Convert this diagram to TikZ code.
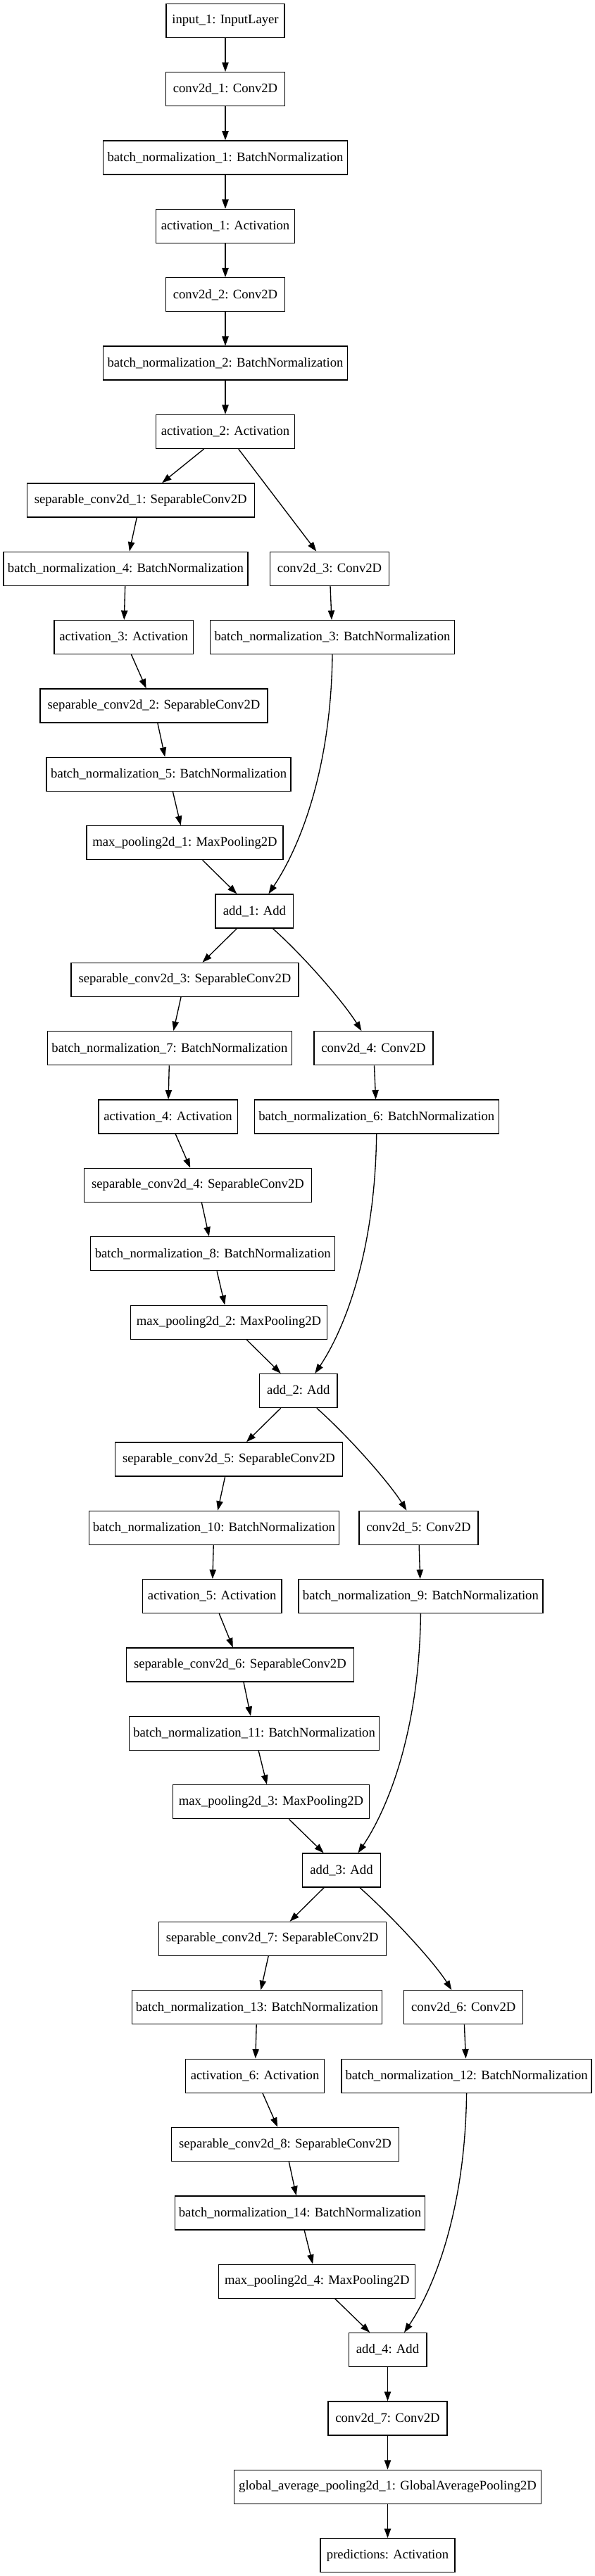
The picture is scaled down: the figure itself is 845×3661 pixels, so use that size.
\documentclass[tikz,border=0pt]{standalone}
\usepackage{fontspec}
\setmainfont{Liberation Serif}
\usetikzlibrary{arrows.meta,calc}
\begin{document}
\begin{tikzpicture}[x=0.75pt,y=-0.75pt,
  layer/.style={draw=black, line width=1pt, rectangle, minimum height=36pt,
    inner xsep=0pt, inner ysep=0pt, text=black, font=\fontsize{14pt}{16pt}\selectfont},
  lyInput/.style={layer, minimum width=126pt},
  lyConv/.style={layer, minimum width=126.75pt},
  lyBN/.style={layer, minimum width=260.25pt},
  lyBNW/.style={layer, minimum width=266.25pt},
  lyAct/.style={layer, minimum width=148pt},
  lySep/.style={layer, minimum width=242.25pt},
  lyPool/.style={layer, minimum width=209.25pt},
  lyAdd/.style={layer, minimum width=83pt},
  lyGap/.style={layer, minimum width=327pt},
  lyPred/.style={layer, minimum width=143.25pt},
  edge/.style={-{Triangle[length=10pt,width=7pt]}, line width=1pt, draw=black}]

\fill[white] (0,0) rectangle (845,3661);
\useasboundingbox (0,0) rectangle (845,3661);

% trunk
\node[lyInput] (in1) at (320,{29.33+0*97.36}) {input\_1: InputLayer};
\node[lyConv]  (c1)  at (320,{29.33+1*97.36}) {conv2d\_1: Conv2D};
\node[lyBN]    (bn1) at (320,{29.33+2*97.36}) {batch\_normalization\_1: BatchNormalization};
\node[lyAct]   (a1)  at (320,{29.33+3*97.36}) {activation\_1: Activation};
\node[lyConv]  (c2)  at (320,{29.33+4*97.36}) {conv2d\_2: Conv2D};
\node[lyBN]    (bn2) at (320,{29.33+5*97.36}) {batch\_normalization\_2: BatchNormalization};
\node[lyAct]   (a2)  at (320,{29.33+6*97.36}) {activation\_2: Activation};

% block 1
\node[lySep]  (s1)   at (199.7,{29.33+7*97.36})  {separable\_conv2d\_1: SeparableConv2D};
\node[lyBN]   (bn4)  at (178.4,{29.33+8*97.36})  {batch\_normalization\_4: BatchNormalization};
\node[lyConv] (c3)   at (468.0,{29.33+8*97.36})  {conv2d\_3: Conv2D};
\node[lyAct]  (a3)   at (175.6,{29.33+9*97.36})  {activation\_3: Activation};
\node[lyBN]   (bn3)  at (472.0,{29.33+9*97.36})  {batch\_normalization\_3: BatchNormalization};
\node[lySep]  (s2)   at (218.5,{29.33+10*97.36}) {separable\_conv2d\_2: SeparableConv2D};
\node[lyBN]   (bn5)  at (239.6,{29.33+11*97.36}) {batch\_normalization\_5: BatchNormalization};
\node[lyPool] (mp1)  at (262.5,{29.33+12*97.36}) {max\_pooling2d\_1: MaxPooling2D};
\node[lyAdd]  (add1) at (361.4,{29.33+13*97.36}) {add\_1: Add};

% block 2
\node[lySep]  (s3)   at (262.5,{29.33+14*97.36}) {separable\_conv2d\_3: SeparableConv2D};
\node[lyBN]   (bn7)  at (240.9,{29.33+15*97.36}) {batch\_normalization\_7: BatchNormalization};
\node[lyConv] (c4)   at (530.4,{29.33+15*97.36}) {conv2d\_4: Conv2D};
\node[lyAct]  (a4)   at (238.5,{29.33+16*97.36}) {activation\_4: Activation};
\node[lyBN]   (bn6)  at (534.7,{29.33+16*97.36}) {batch\_normalization\_6: BatchNormalization};
\node[lySep]  (s4)   at (281.0,{29.33+17*97.36}) {separable\_conv2d\_4: SeparableConv2D};
\node[lyBN]   (bn8)  at (302.3,{29.33+18*97.36}) {batch\_normalization\_8: BatchNormalization};
\node[lyPool] (mp2)  at (325.0,{29.33+19*97.36}) {max\_pooling2d\_2: MaxPooling2D};
\node[lyAdd]  (add2) at (423.8,{29.33+20*97.36}) {add\_2: Add};

% block 3
\node[lySep]  (s5)   at (325.0,{29.33+21*97.36}) {separable\_conv2d\_5: SeparableConv2D};
\node[lyBNW]  (bn10) at (303.9,{29.33+22*97.36}) {batch\_normalization\_10: BatchNormalization};
\node[lyConv] (c5)   at (594.4,{29.33+22*97.36}) {conv2d\_5: Conv2D};
\node[lyAct]  (a5)   at (301.2,{29.33+23*97.36}) {activation\_5: Activation};
\node[lyBN]   (bn9)  at (597.4,{29.33+23*97.36}) {batch\_normalization\_9: BatchNormalization};
\node[lySep]  (s6)   at (340.9,{29.33+24*97.36}) {separable\_conv2d\_6: SeparableConv2D};
\node[lyBNW]  (bn11) at (361.1,{29.33+25*97.36}) {batch\_normalization\_11: BatchNormalization};
\node[lyPool] (mp3)  at (385.0,{29.33+26*97.36}) {max\_pooling2d\_3: MaxPooling2D};
\node[lyAdd]  (add3) at (485.0,{29.33+27*97.36}) {add\_3: Add};

% block 4
\node[lySep]  (s7)   at (386.7,{29.33+28*97.36}) {separable\_conv2d\_7: SeparableConv2D};
\node[lyBNW]  (bn13) at (364.9,{29.33+29*97.36}) {batch\_normalization\_13: BatchNormalization};
\node[lyConv] (c6)   at (658.3,{29.33+29*97.36}) {conv2d\_6: Conv2D};
\node[lyAct]  (a6)   at (362.1,{29.33+30*97.36}) {activation\_6: Activation};
\node[lyBNW]  (bn12) at (662.6,{29.33+30*97.36}) {batch\_normalization\_12: BatchNormalization};
\node[lySep]  (s8)   at (405.0,{29.33+31*97.36}) {separable\_conv2d\_8: SeparableConv2D};
\node[lyBNW]  (bn14) at (426.0,{29.33+32*97.36}) {batch\_normalization\_14: BatchNormalization};
\node[lyPool] (mp4)  at (450.3,{29.33+33*97.36}) {max\_pooling2d\_4: MaxPooling2D};
\node[lyAdd]  (add4) at (550.5,{29.33+34*97.36}) {add\_4: Add};

% tail
\node[lyConv] (c7)   at (550.5,{29.33+35*97.36}) {conv2d\_7: Conv2D};
\node[lyGap]  (gap)  at (550.5,{29.33+36*97.36}) {global\_average\_pooling2d\_1: GlobalAveragePooling2D};
\node[lyPred] (pred) at (550.5,{29.33+37*97.36}) {predictions: Activation};

% trunk edges
\draw[edge] (in1) -- (c1);
\draw[edge] (c1) -- (bn1);
\draw[edge] (bn1) -- (a1);
\draw[edge] (a1) -- (c2);
\draw[edge] (c2) -- (bn2);
\draw[edge] (bn2) -- (a2);

% block 1 edges
\draw[edge] (a2) -- (s1);
\draw[edge] (a2) -- (c3);
\draw[edge] (s1) -- (bn4);
\draw[edge] (bn4) -- (a3);
\draw[edge] (a3) -- (s2);
\draw[edge] (s2) -- (bn5);
\draw[edge] (bn5) -- (mp1);
\draw[edge] (mp1) -- (add1);
\draw[edge] (c3) -- (bn3);
\draw[edge] (bn3.south) .. controls +(-2,170) and +(41,-61) .. ($(add1.north)+(20,0)$);

% block 2 edges
\draw[edge] (add1) -- (s3);
\draw[edge] ($(add1.south)+(26,0)$) .. controls +(45,40) and +(-25,-40) .. ($(c4.north)+(-17,0)$);
\draw[edge] (s3) -- (bn7);
\draw[edge] (bn7) -- (a4);
\draw[edge] (a4) -- (s4);
\draw[edge] (s4) -- (bn8);
\draw[edge] (bn8) -- (mp2);
\draw[edge] (mp2) -- (add2);
\draw[edge] (c4) -- (bn6);
\draw[edge] (bn6.south) .. controls +(-2,170) and +(41,-61) .. ($(add2.north)+(23.5,0)$);

% block 3 edges
\draw[edge] (add2) -- (s5);
\draw[edge] ($(add2.south)+(26,0)$) .. controls +(45,40) and +(-25,-40) .. ($(c5.north)+(-17,0)$);
\draw[edge] (s5) -- (bn10);
\draw[edge] (bn10) -- (a5);
\draw[edge] (a5) -- (s6);
\draw[edge] (s6) -- (bn11);
\draw[edge] (bn11) -- (mp3);
\draw[edge] (mp3) -- (add3);
\draw[edge] (c5) -- (bn9);
\draw[edge] (bn9.south) .. controls +(-2,170) and +(41,-61) .. ($(add3.north)+(23.5,0)$);

% block 4 edges
\draw[edge] (add3) -- (s7);
\draw[edge] ($(add3.south)+(26,0)$) .. controls +(45,40) and +(-25,-40) .. ($(c6.north)+(-17,0)$);
\draw[edge] (s7) -- (bn13);
\draw[edge] (bn13) -- (a6);
\draw[edge] (a6) -- (s8);
\draw[edge] (s8) -- (bn14);
\draw[edge] (bn14) -- (mp4);
\draw[edge] (mp4) -- (add4);
\draw[edge] (c6) -- (bn12);
\draw[edge] (bn12.south) .. controls +(-2,170) and +(41,-61) .. ($(add4.north)+(23.5,0)$);

% tail edges
\draw[edge] (add4) -- (c7);
\draw[edge] (c7) -- (gap);
\draw[edge] (gap) -- (pred);
\end{tikzpicture}
\end{document}
